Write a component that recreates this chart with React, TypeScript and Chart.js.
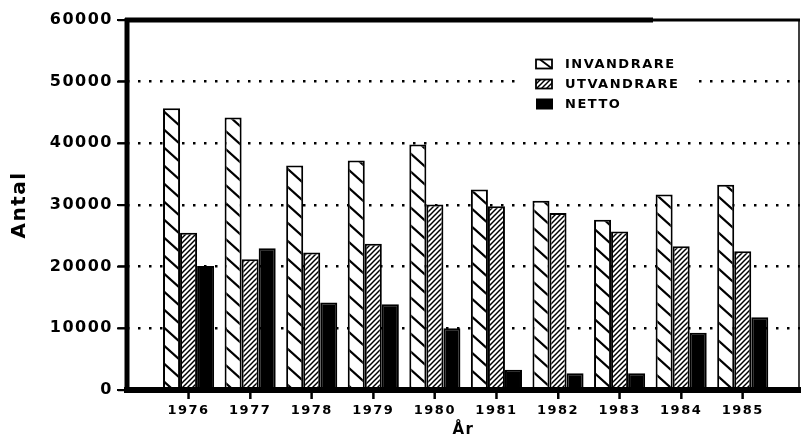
import React, { useEffect, useRef } from 'react';
import { Chart, registerables } from 'chart.js';

Chart.register(...registerables);

// ---- Data ----
const years = [1976, 1977, 1978, 1979, 1980, 1981, 1982, 1983, 1984, 1985];
const invandrare = [45700, 44200, 36400, 37200, 39800, 32500, 30700, 27600, 31700, 33300];
const utvandrare = [25500, 21200, 22300, 23700, 30100, 29800, 28700, 25700, 23300, 22500];
const netto = [20100, 23000, 14200, 13900, 10000, 3300, 2700, 2700, 9300, 11800];
const yTickValues = [0, 10000, 20000, 30000, 40000, 50000, 60000];
const seriesNames = ['INVANDRARE', 'UTVANDRARE', 'NETTO'];
const xTitle = 'År';
const yTitle = 'Antal';

const FAMILY = '"DejaVu Sans", sans-serif';

function makeSparseHatch(): CanvasPattern | string {
  const w = 20, h = 18;
  const c = document.createElement('canvas');
  c.width = w; c.height = h;
  const g = c.getContext('2d');
  if (!g) return '#fff';
  g.fillStyle = '#fff';
  g.fillRect(0, 0, w, h);
  g.strokeStyle = '#000';
  g.lineWidth = 2.2;
  for (let k = -1; k <= 1; k++) {
    g.beginPath();
    g.moveTo(k * w - w, -h);
    g.lineTo(k * w + 2 * w, 2 * h);
    g.stroke();
  }
  return g.createPattern(c, 'repeat') || '#fff';
}

function makeDenseHatch(): CanvasPattern | string {
  const s = 5;
  const c = document.createElement('canvas');
  c.width = s; c.height = s;
  const g = c.getContext('2d');
  if (!g) return '#888';
  g.fillStyle = '#fff';
  g.fillRect(0, 0, s, s);
  g.strokeStyle = '#000';
  g.lineWidth = 1.5;
  for (let k = 0; k <= 2; k++) {
    g.beginPath();
    g.moveTo(k * s + 2 * s, -2 * s);
    g.lineTo(k * s - 2 * s, 2 * s);
    g.stroke();
  }
  return g.createPattern(c, 'repeat') || '#888';
}

const spacingPlugin = {
  id: 'letterSpacing',
  beforeUpdate(chart: any) { chart.ctx.letterSpacing = '1.5px'; },
  beforeDraw(chart: any) { chart.ctx.letterSpacing = '1.5px'; },
};

const framePlugin = {
  id: 'frame',
  afterDatasetsDraw(chart: any) {
    const { ctx, chartArea, scales } = chart;
    const { left, right, top, bottom } = chartArea;
    ctx.save();
    ctx.strokeStyle = '#000';
    ctx.lineCap = 'butt';
    // tick marks, positioned by the scales
    ctx.lineWidth = 2;
    scales.y.ticks.forEach((t: any) => {
      const py = scales.y.getPixelForValue(t.value);
      ctx.beginPath(); ctx.moveTo(left - 10, py); ctx.lineTo(left, py); ctx.stroke();
    });
    scales.x.ticks.forEach((t: any) => {
      const px = scales.x.getPixelForValue(t.value);
      ctx.beginPath(); ctx.moveTo(px, bottom); ctx.lineTo(px, bottom + 9); ctx.stroke();
    });
    // frame
    ctx.lineWidth = 1.5;
    ctx.beginPath(); ctx.moveTo(right - 1, top); ctx.lineTo(right - 1, bottom); ctx.stroke();
    ctx.lineWidth = 5;
    ctx.beginPath(); ctx.moveTo(left - 2, top); ctx.lineTo(653, top); ctx.stroke();
    ctx.lineWidth = 3;
    ctx.beginPath(); ctx.moveTo(653, top); ctx.lineTo(right, top); ctx.stroke();
    ctx.lineWidth = 5;
    ctx.beginPath(); ctx.moveTo(left, top - 2); ctx.lineTo(left, bottom + 3); ctx.stroke();
    ctx.lineWidth = 6;
    ctx.beginPath(); ctx.moveTo(left - 3, bottom); ctx.lineTo(right + 1, bottom); ctx.stroke();
    ctx.restore();
  },
};

const legendPlugin = {
  id: 'insideLegend',
  afterDatasetsDraw(chart: any) {
    const ctx = chart.ctx;
    const x0 = 536, bw = 16, bh = 9, tx = 565;
    const rowsY = [64, 84, 104];
    ctx.save();
    ctx.fillStyle = '#fff';
    ctx.fillRect(522, 52, 172, 62);
    ctx.letterSpacing = '1.5px';
    ctx.font = 'bold 13px ' + FAMILY;
    ctx.textBaseline = 'middle';
    ctx.textAlign = 'left';
    chart.data.datasets.forEach((ds: any, i: number) => {
      const cy = rowsY[i];
      const y = cy - bh / 2;
      ctx.lineWidth = 1.8;
      ctx.strokeStyle = '#000';
      if (i === 0) {
        ctx.fillStyle = '#fff';
        ctx.fillRect(x0, y, bw, bh);
        ctx.strokeRect(x0, y, bw, bh);
        ctx.beginPath(); ctx.moveTo(x0 + 4, y); ctx.lineTo(x0 + bw, y + bh); ctx.stroke();
      } else if (i === 1) {
        ctx.fillStyle = ds.backgroundColor;
        ctx.fillRect(x0, y, bw, bh);
        ctx.strokeRect(x0, y, bw, bh);
      } else {
        ctx.fillStyle = '#000';
        ctx.fillRect(x0, y - 1, bw + 1, bh + 2);
      }
      ctx.fillStyle = '#000';
      ctx.fillText(ds.label, tx, cy + 0.5);
    });
    ctx.restore();
  },
};

export default function App() {
  const canvasRef = useRef<HTMLCanvasElement | null>(null);

  useEffect(() => {
    const canvas = canvasRef.current;
    if (!canvas) return;
    const sparse = makeSparseHatch();
    const dense = makeDenseHatch();

    const chart = new Chart(canvas, {
      type: 'bar',
      data: {
        labels: years,
        datasets: [
          { label: seriesNames[0], data: invandrare, backgroundColor: sparse as any, borderColor: '#000', borderWidth: 2 },
          { label: seriesNames[1], data: utvandrare, backgroundColor: dense as any, borderColor: '#000', borderWidth: 2 },
          { label: seriesNames[2], data: netto, backgroundColor: '#000', borderColor: '#000', borderWidth: 2 },
        ],
      },
      options: {
        animation: false,
        responsive: true,
        maintainAspectRatio: false,
        layout: { padding: { top: 20, right: 1, left: 0, bottom: 0 } },
        datasets: { bar: { categoryPercentage: 0.83, barPercentage: 1 } } as any,
        plugins: {
          legend: { display: false },
          tooltip: { enabled: false },
        },
        scales: {
          x: {
            type: 'linear',
            min: 1975,
            max: 1985.93,
            offset: false,
            afterBuildTicks: (s: any) => { s.ticks = years.map((v) => ({ value: v })); },
            afterFit: (s: any) => { s.height = 49; },
            grid: {
              offset: false,
              drawOnChartArea: false,
              color: '#000',
              tickColor: '#000',
              tickWidth: 2,
              tickLength: 9,
            } as any,
            border: { display: false },
            ticks: {
              color: '#000',
              font: { family: FAMILY, size: 13, weight: 'bold' },
              padding: 4,
              maxRotation: 0,
              autoSkip: false,
              callback: (v: any) => String(v),
            },
            title: {
              display: true,
              text: xTitle,
              color: '#000',
              font: { family: FAMILY, size: 15, weight: 'bold' },
              padding: { top: 0, bottom: 0 },
            },
          },
          y: {
            min: 0,
            max: 60000,
            afterBuildTicks: (s: any) => { s.ticks = yTickValues.map((v) => ({ value: v })); },
            afterFit: (s: any) => { s.width = 127; },
            grid: {
              color: (c: any) => (c.tick && (c.tick.value === 0 || c.tick.value === 60000)) ? 'rgba(0,0,0,0)' : '#000',
              lineWidth: 2.5,
              borderDash: [2.5, 8.5],
              tickBorderDash: [],
              tickColor: '#000',
              tickWidth: 2,
              tickLength: 9,
            } as any,
            border: { display: false, dash: [2.5, 8.5] } as any,
            ticks: {
              color: '#000',
              font: { family: FAMILY, size: 16, weight: 'bold' },
              padding: 5,
              callback: (v: any) => String(v),
            },
            title: {
              display: true,
              text: yTitle,
              color: '#000',
              font: { family: FAMILY, size: 20, weight: 'bold' },
              padding: { top: 8, bottom: 0 },
            },
          },
        },
      },
      plugins: [spacingPlugin, legendPlugin, framePlugin],
    });

    return () => { chart.destroy(); };
  }, []);

  return (
    <div style={{ position: 'fixed', left: 0, top: 0, width: 801, height: 439, background: '#fff' }}>
      <canvas ref={canvasRef} />
    </div>
  );
}
